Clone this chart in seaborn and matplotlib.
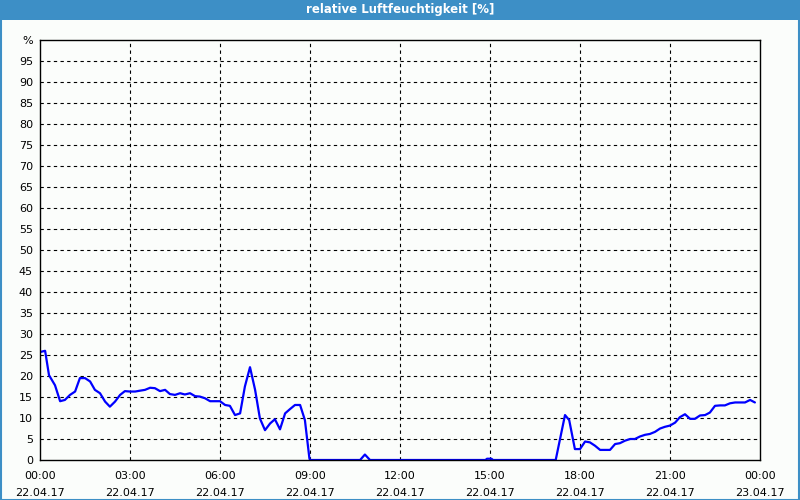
import matplotlib
matplotlib.use("Agg")
import matplotlib.pyplot as plt
import seaborn as sns
import pandas as pd
from matplotlib.patches import Rectangle

# ---- data ----
hours = [0.0, 0.17, 0.3, 0.5, 0.67, 0.83, 1.0, 1.17, 1.33, 1.5, 1.67, 1.83,
         2.0, 2.17, 2.33, 2.5, 2.67, 2.83, 3.0, 3.17, 3.33, 3.5, 3.67, 3.83,
         4.0, 4.17, 4.33, 4.5, 4.67, 4.83, 5.0, 5.17, 5.33, 5.5, 5.67, 6.0,
         6.17, 6.33, 6.5, 6.67, 6.83, 7.0, 7.17, 7.33, 7.5, 7.67, 7.83, 8.0,
         8.17, 8.33, 8.5, 8.67, 8.83, 8.98, 9.0, 10.67, 10.83, 11.0, 14.85,
         14.9, 15.05, 15.1, 17.19, 17.5, 17.64, 17.83, 18.0, 18.17, 18.33,
         18.5, 18.67, 19.0, 19.17, 19.33, 19.5, 19.67, 19.83, 20.0, 20.17,
         20.33, 20.5, 20.67, 20.83, 21.0, 21.17, 21.33, 21.5, 21.67, 21.83,
         22.0, 22.17, 22.33, 22.5, 22.67, 22.83, 23.0, 23.17, 23.33, 23.5,
         23.67, 23.83]
humidity = [25.7, 26.0, 20.2, 17.8, 14.0, 14.3, 15.5, 16.3, 19.5, 19.5, 18.7, 16.7,
            15.9, 13.9, 12.7, 13.9, 15.5, 16.4, 16.3, 16.3, 16.5, 16.7, 17.2, 17.1,
            16.4, 16.7, 15.7, 15.5, 15.9, 15.6, 15.9, 15.2, 15.1, 14.7, 14.0, 14.0,
            13.1, 12.9, 10.7, 11.1, 17.5, 22.1, 16.7, 9.9, 7.1, 8.7, 9.7, 7.3,
            11.1, 12.1, 13.1, 13.1, 9.5, 0.4, 0.0, 0.0, 1.3, 0.0, 0.0,
            0.3, 0.3, 0.0, 0.0, 10.7, 9.5, 2.6, 2.6, 4.4, 4.2,
            3.4, 2.4, 2.4, 3.8, 4.0, 4.6, 5.0, 5.0, 5.6, 6.0,
            6.2, 6.7, 7.5, 7.9, 8.2, 8.9, 10.2, 10.9, 9.8, 9.8,
            10.6, 10.7, 11.3, 12.9, 13.0, 13.0, 13.5, 13.7, 13.7, 13.7,
            14.3, 13.7]
x_tick_hours = [0, 3, 6, 9, 12, 15, 18, 21, 24]
x_tick_labels = ["00:00\n22.04.17", "03:00\n22.04.17", "06:00\n22.04.17",
                 "09:00\n22.04.17", "12:00\n22.04.17", "15:00\n22.04.17",
                 "18:00\n22.04.17", "21:00\n22.04.17", "00:00\n23.04.17"]
y_ticks = list(range(0, 101, 5))
y_tick_labels = [str(v) for v in range(0, 100, 5)] + ["%"]
title = "relative Luftfeuchtigkeit [%]"

df = pd.DataFrame({"t": hours, "rh": humidity})

sns.set_style("white")
plt.rcParams["font.family"] = ["DejaVu Sans"]

bg = "#fbfdfb"
fig = plt.figure(figsize=(8, 5), dpi=100, facecolor=bg)
ax = fig.add_axes([0.05, 0.08, 0.90, 0.84])
ax.set_facecolor(bg)

sns.lineplot(data=df, x="t", y="rh", ax=ax, color="#0000ff", linewidth=1.6)

ax.set_xlim(0, 24)
ax.set_ylim(0, 100)
ax.set_xticks(x_tick_hours)
ax.set_xticklabels(x_tick_labels, fontsize=8, linespacing=1.9)
ax.set_xticks(range(0, 25), minor=True)
ax.set_yticks(y_ticks)
ax.set_yticklabels(y_tick_labels, fontsize=8)
ax.tick_params(axis="both", which="both", direction="out", length=3, width=1,
               color="black", labelcolor="black", pad=2)
ax.tick_params(axis="x", which="major", pad=5)
ax.set_xlabel("")
ax.set_ylabel("")

for v in y_ticks[1:-1]:
    ax.axhline(v, color="black", linestyle=(0, (3, 3)), linewidth=0.8, zorder=0)
for h in x_tick_hours[1:-1]:
    ax.axvline(h, color="black", linestyle=(0, (3, 3)), linewidth=0.8, zorder=0)

for s in ax.spines.values():
    s.set_visible(True)
    s.set_color("black")
    s.set_linewidth(1.0)

# title bar and frame
fig.patches.append(Rectangle((0, 0.96), 1, 0.04, transform=fig.transFigure,
                             facecolor="#3d8fc6", edgecolor="none", zorder=0))
fig.patches.append(Rectangle((0.001, 0.001), 0.998, 0.998, transform=fig.transFigure,
                             facecolor="none", edgecolor="#3d8fc6", linewidth=1.5, zorder=1))
fig.text(0.5, 0.98, title, color="white", fontsize=8.5, fontweight="bold",
         ha="center", va="center")

fig.savefig("out.png", dpi=100, facecolor=bg)
